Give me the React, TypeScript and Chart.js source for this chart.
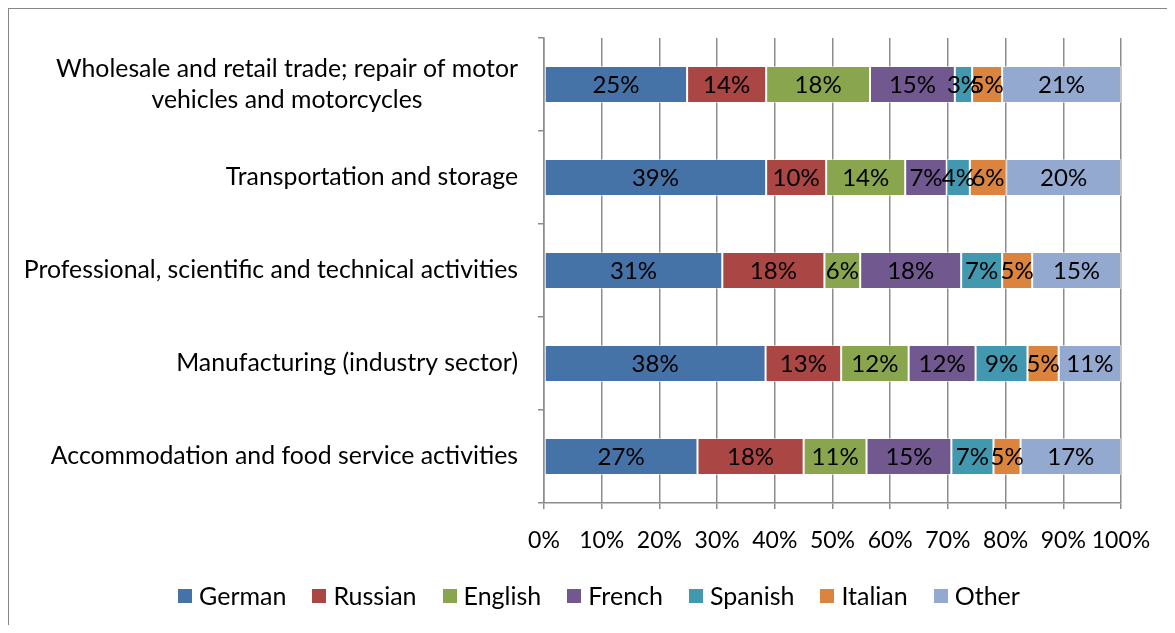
import React, { useEffect, useRef } from "react";
import { Chart, registerables } from "chart.js";

Chart.register(...registerables);

const categoryLines: string[][] = [
  ["Wholesale and retail trade; repair of motor", "vehicles and motorcycles"],
  ["Transportation and storage"],
  ["Professional, scientific and technical activities"],
  ["Manufacturing (industry sector)"],
  ["Accommodation and food service activities"],
];

const seriesNames = ["German", "Russian", "English", "French", "Spanish", "Italian", "Other"];
const seriesColors = ["#4572A7", "#AA4643", "#89A54E", "#71588F", "#4198AF", "#DB843D", "#93A9CF"];

const german = [24.8, 38.5, 30.9, 38.4, 26.6];
const russian = [13.7, 10.4, 17.7, 13.1, 18.4];
const english = [18.0, 13.7, 6.2, 11.7, 10.9];
const french = [14.7, 7.2, 17.5, 11.6, 14.7];
const spanish = [3.0, 4.0, 7.1, 9.0, 7.3];
const italian = [5.2, 6.3, 5.2, 5.4, 4.7];
const other = [20.6, 19.9, 15.4, 10.8, 17.4];

const seriesValues = [german, russian, english, french, spanish, italian, other];

const FONT = "Lato";
const GRID = "#8c8c8c";

const labelPlugin = {
  id: "barLabels",
  afterDatasetsDraw(chart: any) {
    const ctx = chart.ctx;
    ctx.save();
    ctx.font = `24px ${FONT}`;
    ctx.fillStyle = "#000";
    ctx.textAlign = "center";
    ctx.textBaseline = "middle";
    chart.data.datasets.forEach((ds: any, di: number) => {
      const meta = chart.getDatasetMeta(di);
      meta.data.forEach((el: any, i: number) => {
        const v = ds.data[i];
        const cx = (el.x + el.base) / 2;
        ctx.fillText(Math.round(v) + "%", cx, el.y + 1);
      });
    });
    ctx.restore();
  },
};

const catLabelPlugin = {
  id: "catLabels",
  afterDraw(chart: any) {
    const ctx = chart.ctx;
    const yScale = chart.scales.y;
    const right = chart.chartArea.left - 26;
    ctx.save();
    ctx.font = `24.8px ${FONT}`;
    ctx.fillStyle = "#000";
    ctx.textAlign = "center";
    ctx.textBaseline = "middle";
    const lineH = 31;
    categoryLines.forEach((lines, i) => {
      const y = yScale.getPixelForValue(i);
      const w = Math.max(...lines.map((l) => ctx.measureText(l).width));
      const cx = right - w / 2;
      const start = y - ((lines.length - 1) * lineH) / 2;
      lines.forEach((l, j) => ctx.fillText(l, cx, start + j * lineH));
    });
    ctx.restore();
  },
};

const legendPlugin = {
  id: "customLegend",
  afterDraw(chart: any) {
    const ctx = chart.ctx;
    ctx.save();
    ctx.font = `25px ${FONT}`;
    ctx.textBaseline = "middle";
    ctx.textAlign = "left";
    const box = 14;
    const gap = 7;
    const itemGap = 26;
    const widths = seriesNames.map((n) => box + gap + ctx.measureText(n).width);
    const total = widths.reduce((a, b) => a + b, 0) + itemGap * (widths.length - 1);
    const centerX = 590;
    const y = 587;
    let x = centerX - total / 2;
    seriesNames.forEach((n, i) => {
      ctx.fillStyle = seriesColors[i];
      ctx.fillRect(Math.round(x), y - 7, box, box);
      ctx.fillStyle = "#000";
      ctx.fillText(n, x + box + gap, y + 1);
      x += widths[i] + itemGap;
    });
    ctx.restore();
  },
};

export default function App() {
  const ref = useRef<HTMLCanvasElement>(null);
  useEffect(() => {
    if (!ref.current) return;
    const chart = new Chart(ref.current, {
      type: "bar",
      data: {
        labels: categoryLines.map((l) => l.join(" ")),
        datasets: seriesNames.map((name, i) => ({
          label: name,
          data: seriesValues[i],
          backgroundColor: seriesColors[i],
          borderColor: "rgba(255,255,255,0.5)",
          borderWidth: 1,
          borderSkipped: false,
          barPercentage: 0.4,
          categoryPercentage: 1,
        })),
      },
      options: {
        indexAxis: "y",
        animation: false,
        responsive: false,
        layout: { padding: { top: 29, right: 46, left: 68, bottom: 62 } },
        plugins: {
          tooltip: { enabled: false },
          legend: { display: false },
        },
        scales: {
          x: {
            stacked: true,
            min: 0,
            max: 100,
            ticks: {
              stepSize: 10,
              autoSkip: false,
              callback: (v: any) => v + "%",
              color: "#000",
              font: { family: FONT, size: 23 },
              padding: 18,
              maxRotation: 0,
            },
            grid: { color: GRID, lineWidth: 1.5, tickLength: 6 },
            border: { color: GRID, width: 1.5 },
            afterFit: (s: any) => {
              s.paddingRight = 0;
              s.paddingLeft = 0;
              s.height = 60;
            },
          },
          y: {
            stacked: true,
            ticks: { display: false },
            grid: { drawOnChartArea: false, color: GRID, lineWidth: 1.5, tickLength: 6, offset: true },
            border: { color: GRID, width: 1.5 },
            afterFit: (s: any) => {
              s.width = 467;
            },
          },
        },
      },
      plugins: [labelPlugin, catLabelPlugin, legendPlugin],
    });
    return () => chart.destroy();
  }, []);
  return (
    <div
      style={{
        borderLeft: "1px solid #868686",
        borderTop: "1px solid #868686",
        width: 1158,
        height: 616,
        background: "#fff",
      }}
    >
      <canvas ref={ref} width={1158} height={616} style={{ display: "block" }} />
    </div>
  );
}
